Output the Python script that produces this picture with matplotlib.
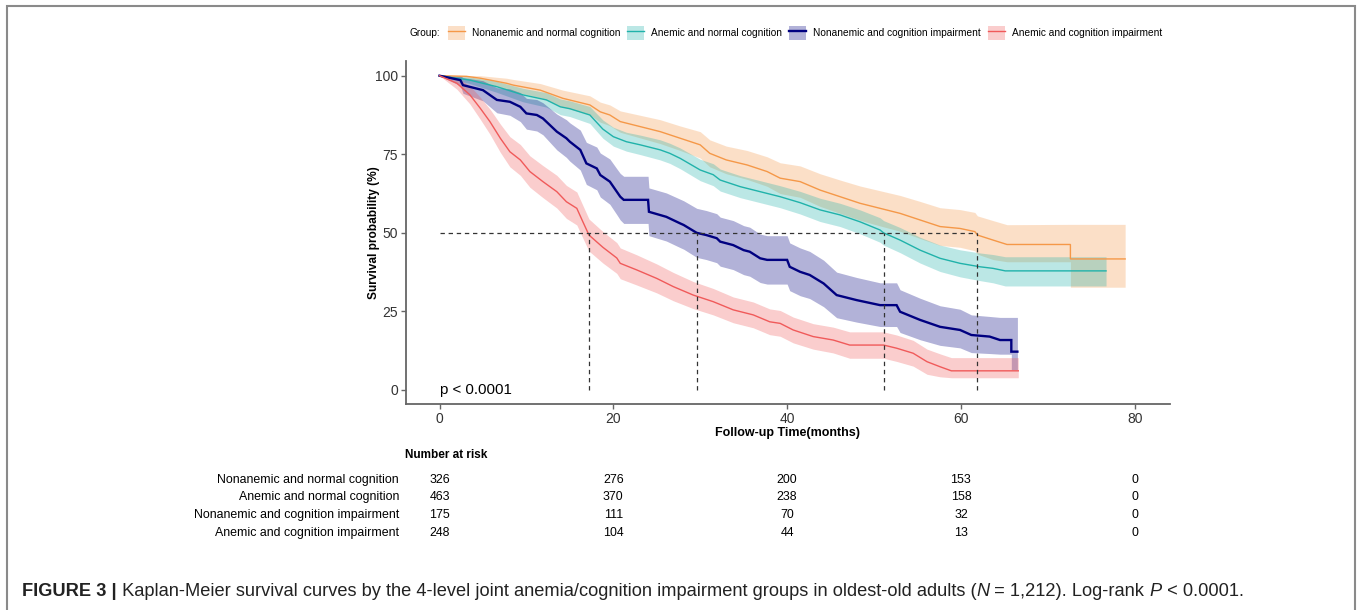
import matplotlib
matplotlib.use('Agg')
import matplotlib.pyplot as plt
from matplotlib import font_manager
from matplotlib.patches import Patch, Rectangle
from matplotlib.lines import Line2D
from matplotlib.legend_handler import HandlerTuple
import matplotlib.transforms as mtransforms

# ---------------- data ----------------
groups = ["Nonanemic and normal cognition", "Anemic and normal cognition",
          "Nonanemic and cognition impairment", "Anemic and cognition impairment"]
colors = ["#F59848", "#20B2AA", "#000080", "#F05A5A"]

t_nn = [0, 3.1, 4.7, 7.7, 8.5, 11.6, 14.2, 17.3, 18.5, 19.6, 20.8, 23.1, 25.4, 27.7, 30.0, 31.1,
        33.0, 35.4, 37.7, 39.2, 41.5, 43.8, 46.1, 48.4, 50.7, 53.0, 55.3, 57.6, 59.9, 61.6, 61.9,
        63.7, 65.3, 72.6, 72.6, 78.9]
s_nn = [100, 99.8, 99.2, 97.6, 97.0, 95.4, 92.8, 90.7, 88.5, 87.5, 85.4, 83.8, 82.2, 80.1, 78.0, 75.3,
        73.2, 71.6, 69.5, 67.4, 66.3, 63.6, 61.5, 59.4, 57.8, 56.2, 54.1, 52.0, 51.4, 50.4, 49.3,
        47.7, 46.3, 46.3, 41.7, 41.7]
hi_nn = [100, 100, 100, 99.2, 98.8, 97.5, 95.4, 93.6, 91.6, 90.7, 88.8, 87.4, 86.0, 84.0, 82.2, 79.6,
         77.6, 76.2, 74.2, 72.3, 71.3, 68.8, 66.8, 64.9, 63.4, 61.9, 60.0, 58.0, 57.4, 56.5, 55.4,
         53.9, 52.6, 52.7, 52.7, 52.7]
lo_nn = [100, 99.2, 98.2, 95.8, 95.0, 93.0, 90.0, 87.6, 85.2, 84.1, 82.0, 80.2, 78.4, 76.2, 73.8, 71.0,
         68.8, 67.0, 64.8, 62.5, 61.3, 58.4, 56.2, 54.0, 52.2, 50.5, 48.2, 46.0, 45.4, 44.3, 43.2,
         41.5, 40.8, 40.8, 32.7, 32.7]

t_an = [0, 3.5, 6.6, 9.6, 12.3, 13.9, 15.0, 17.3, 18.0, 18.8, 20.0, 21.5, 23.1, 25.4, 26.5, 27.7,
        30.0, 31.5, 32.3, 34.6, 36.9, 39.2, 41.5, 43.8, 46.1, 48.4, 50.7, 51.1, 53.0, 55.3, 57.6,
        59.9, 62.2, 63.7, 65.1, 76.7]
s_an = [100, 98.6, 96.5, 93.9, 92.3, 90.1, 89.5, 87.5, 85.4, 83.0, 80.6, 79.0, 78.0, 76.4, 75.3, 73.7,
        70.0, 68.5, 66.8, 64.7, 63.1, 61.5, 59.6, 57.3, 55.7, 53.5, 50.9, 50.0, 47.7, 44.5, 41.9,
        40.3, 39.2, 38.7, 37.9, 37.9]
hi_an = [100, 99.6, 98.2, 96.0, 94.6, 92.6, 92.0, 90.2, 88.2, 85.9, 83.6, 82.0, 81.1, 79.6, 78.5, 77.0,
         73.4, 72.0, 70.3, 68.2, 66.6, 65.0, 63.2, 61.0, 59.4, 57.3, 54.8, 53.9, 51.7, 48.6, 46.1,
         44.6, 43.6, 43.1, 42.4, 42.4]
lo_an = [100, 97.5, 94.7, 91.7, 90.0, 87.6, 87.0, 84.8, 82.6, 80.1, 77.6, 76.0, 74.9, 73.2, 72.1, 70.4,
         66.6, 65.0, 63.3, 61.2, 59.6, 58.0, 56.0, 53.6, 52.0, 49.7, 47.0, 46.1, 43.7, 40.4, 37.7,
         36.0, 34.8, 34.1, 33.1, 33.1]

t_nc = [0, 2.4, 2.7, 5.0, 6.6, 8.1, 9.3, 10.0, 11.2, 11.9, 12.7, 13.5, 14.6, 15.0, 16.2, 16.9, 18.1,
        18.5, 19.6, 20.4, 20.8, 21.2, 24.0, 24.1, 26.1, 27.7, 28.1, 29.6, 30.7, 31.9, 32.3, 33.8,
        35.0, 35.7, 36.9, 37.7, 40.0, 40.3, 41.5, 42.6, 44.2, 45.7, 48.0, 50.7, 52.6, 53.0, 55.3,
        57.6, 59.9, 61.2, 63.3, 64.5, 65.8, 65.8, 66.5]
s_nc = [100, 98.6, 97.0, 95.4, 92.3, 91.7, 90.1, 88.0, 87.5, 86.4, 84.3, 82.2, 80.1, 79.0, 76.4, 72.1, 70.5,
        68.4, 66.3, 63.1, 61.5, 60.5, 60.5, 56.7, 55.1, 53.0, 52.5, 50.0, 49.3, 48.3, 47.2, 46.1,
        44.5, 44.0, 41.9, 41.4, 41.4, 39.2, 37.6, 36.6, 33.9, 30.2, 28.6, 27.0, 27.0, 24.9, 22.3,
        20.1, 19.1, 17.5, 17.0, 15.9, 15.9, 12.2, 12.2]
hi_nc = [100, 100, 99.4, 98.4, 96.2, 95.8, 94.6, 92.8, 92.4, 91.4, 89.6, 87.8, 86.0, 85.0, 82.7, 78.8, 77.3,
         75.4, 73.5, 70.4, 68.9, 68.0, 68.0, 64.3, 62.7, 60.7, 60.2, 57.8, 57.1, 56.1, 55.0, 53.9,
         52.3, 51.8, 49.6, 49.1, 49.1, 46.8, 45.2, 44.1, 41.3, 37.5, 35.8, 34.1, 34.1, 31.9, 29.2,
         26.8, 25.7, 23.9, 23.4, 23.1, 23.1, 23.1, 23.1]
lo_nc = [100, 96.8, 94.4, 92.0, 88.2, 87.4, 85.4, 83.0, 82.4, 81.2, 78.8, 76.4, 74.0, 72.8, 70.0, 65.4, 63.7,
         61.4, 59.1, 55.8, 54.1, 53.0, 53.0, 49.1, 47.4, 45.3, 44.8, 42.2, 41.5, 40.5, 39.4, 38.3,
         36.7, 36.2, 34.2, 33.7, 33.7, 31.6, 30.0, 29.1, 26.5, 23.0, 21.6, 20.2, 20.2, 18.3, 16.0,
         14.2, 13.4, 11.9, 11.6, 11.4, 11.4, 6.4, 6.4]

t_ac = [0, 2.0, 3.5, 4.7, 5.8, 7.0, 8.1, 9.3, 10.4, 11.9, 13.5, 14.6, 15.8, 16.5, 17.2, 18.8, 20.4,
        20.8, 22.7, 25.0, 26.9, 29.2, 31.5, 33.8, 36.1, 38.0, 39.2, 40.7, 43.0, 45.3, 47.2, 51.1,
        52.6, 54.5, 56.1, 57.6, 58.9, 66.6]
s_ac = [100, 97.6, 93.9, 89.6, 85.4, 80.1, 75.8, 73.2, 69.5, 66.3, 63.1, 59.9, 57.8, 53.5, 49.3, 45.4, 42.0,
        40.3, 38.2, 35.5, 32.9, 30.2, 28.1, 25.5, 23.9, 21.7, 21.2, 19.1, 17.0, 15.9, 14.3, 14.3,
        13.3, 11.7, 9.0, 7.4, 6.1, 6.1]
hi_ac = [100, 99.5, 96.8, 93.1, 89.4, 84.6, 80.6, 78.1, 74.5, 71.4, 68.3, 65.1, 63.0, 58.7, 54.4, 50.4, 46.9,
         45.2, 43.0, 40.1, 37.4, 34.5, 32.3, 29.6, 28.0, 25.8, 25.3, 23.2, 21.1, 20.0, 18.5, 18.5,
         17.5, 15.8, 13.0, 11.5, 10.3, 10.3]
lo_ac = [100, 95.7, 91.0, 86.1, 81.4, 75.6, 71.0, 68.3, 64.5, 61.2, 57.9, 54.6, 52.5, 48.3, 44.2, 40.4, 37.1,
         35.4, 33.4, 30.9, 28.4, 25.9, 23.9, 21.4, 19.8, 17.6, 17.1, 15.0, 13.0, 11.8, 10.1, 10.1,
         9.1, 7.6, 5.0, 4.2, 3.9, 3.9]

times = [t_nn, t_an, t_nc, t_ac]
surv = [s_nn, s_an, s_nc, s_ac]
upper = [hi_nn, hi_an, hi_nc, hi_ac]
lower = [lo_nn, lo_an, lo_nc, lo_ac]
medians = [61.9, 51.1, 29.6, 17.2]

risk_times = [0, 20, 40, 60, 80]
risk = [[326, 276, 200, 153, 0],
        [463, 370, 238, 158, 0],
        [175, 111, 70, 32, 0],
        [248, 104, 44, 13, 0]]

x_ticks = [0, 20, 40, 60, 80]
y_ticks = [0, 25, 50, 75, 100]

caption_pieces = [("FIGURE 3 |", "bold", "normal"),
                  (" Kaplan-Meier survival curves by the 4-level joint anemia/cognition impairment "
                   "groups in oldest-old adults (", "normal", "normal"),
                  ("N", "normal", "italic"),
                  (" = 1,212). Log-rank ", "normal", "normal"),
                  ("P", "normal", "italic"),
                  (" < 0.0001.", "normal", "normal")]

# ---------------- fonts ----------------
names = {f.name for f in font_manager.fontManager.ttflist}
NARROW = 'Liberation Sans Narrow' if 'Liberation Sans Narrow' in names else 'Liberation Sans'
plt.rcParams['font.family'] = ['Liberation Sans', 'DejaVu Sans']

W, H = 1357, 610
fig = plt.figure(figsize=(W / 100, H / 100), dpi=100)


def fx(x):
    return x / W


def fy(y):
    return 1 - y / H


ax = fig.add_axes([fx(405.7), fy(404.3), fx(1170) - fx(405.7), fy(61.4) - fy(404.3)])

lws = [1.0, 1.0, 1.7, 1.0]
for t, s, lo, hi, c in zip(times, surv, lower, upper, colors):
    ax.fill_between(t, lo, hi, color=c, alpha=0.3, lw=0)
for t, s, c, lw in zip(times, surv, colors, lws):
    ax.plot(t, s, color=c, lw=lw, solid_joinstyle='miter')

dash = (0, (3.5, 3))
ax.plot([0, max(medians)], [50, 50], ls=dash, color='#333333', lw=0.9)
for m in medians:
    ax.plot([m, m], [0, 50], ls=dash, color='#333333', lw=0.9)

ax.text(0, 0, 'p < 0.0001', ha='left', va='center', fontsize=10.8, color='black')

ax.set_xlim(-3.89, 84.06)
ax.set_ylim(-4.55, 104.55)
ax.set_xticks(x_ticks)
ax.set_yticks(y_ticks)
for sp in ['top', 'right']:
    ax.spines[sp].set_visible(False)
for sp in ['left', 'bottom']:
    ax.spines[sp].set_color('#666666')
    ax.spines[sp].set_linewidth(1.3)
ax.tick_params(axis='both', colors='#666666', length=3.5, width=1.0, labelsize=10,
               labelcolor='#333333', pad=2)
ax.set_xlabel('Follow-up Time(months)', fontsize=9.0, fontweight='bold', labelpad=1)
ax.set_ylabel('Survival probability (%)', fontsize=8.6, fontweight='bold', labelpad=-3.5)

# legend
fig.text(fx(410), fy(33), 'Group:', va='center', ha='left', fontsize=7.3, family=NARROW)
handles = [(Patch(facecolor=c, alpha=0.3, lw=0), Line2D([], [], color=c, lw=lw))
           for c, lw in zip(colors, lws)]
fig.legend(handles, groups, handler_map={tuple: HandlerTuple(ndivide=1, pad=0)},
           loc='center left', bbox_to_anchor=(fx(448), fy(33)), ncol=4, frameon=False,
           handlelength=1.65, handleheight=1.7, handletextpad=0.7, columnspacing=0.7,
           borderaxespad=0, borderpad=0, prop={'family': NARROW, 'size': 7.3})

# risk table
trans = mtransforms.blended_transform_factory(ax.transData, fig.transFigure)
fig.text(fx(405), fy(455), 'Number at risk', ha='left', va='center', fontsize=8.5,
         fontweight='bold', family=NARROW)
row_y = [480, 497, 515, 533]
for g, row, ry in zip(groups, risk, row_y):
    fig.text(fx(399), fy(ry), g, ha='right', va='center', fontsize=8.9, family=NARROW)
    for tt, n in zip(risk_times, row):
        fig.text(tt, fy(ry), str(n), transform=trans, ha='center', va='center',
                 fontsize=8.9, family=NARROW)

# caption (pieces laid out one after another)
renderer = fig.canvas.get_renderer()
cap_size = 13.13
xpos = fx(22)
for txt, weight, style in caption_pieces:
    tobj = fig.text(xpos, fy(595.5), txt, ha='left', va='baseline', fontsize=cap_size,
                    fontweight=weight, fontstyle=style, color='#222222')
    bb = tobj.get_window_extent(renderer)
    xpos = bb.x1 / fig.bbox.width

# frame
fig.add_artist(Rectangle((fx(7), fy(640)), fx(1355) - fx(7), fy(6) - fy(640),
                         transform=fig.transFigure, fill=False, edgecolor='#8a8a8a', lw=1.5,
                         clip_on=False))

fig.savefig('out.png', dpi=100)
